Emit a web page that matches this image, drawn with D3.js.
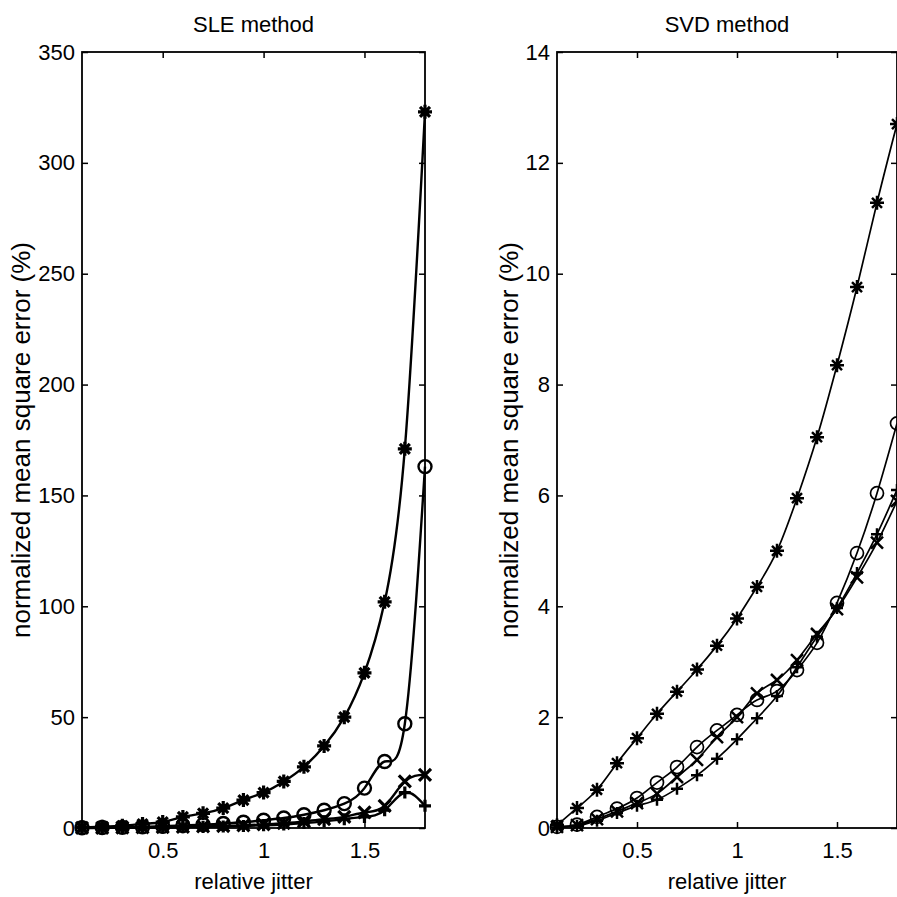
<!DOCTYPE html>
<html>
<head>
<meta charset="utf-8">
<script src="https://cdnjs.cloudflare.com/ajax/libs/d3/7.8.5/d3.min.js"></script>
<style>
  body { margin: 0; background: #fff; }
  text { font-family: "Liberation Sans", Arial, sans-serif; fill: #000; }
</style>
</head>
<body>
<svg id="chart"></svg>
<script>
var svg = d3.select("#chart").attr("width", 897).attr("height", 897);

var jitter = [0.1, 0.2, 0.3, 0.4, 0.5, 0.6, 0.7, 0.8, 0.9, 1.0, 1.1, 1.2, 1.3, 1.4, 1.5, 1.6, 1.7, 1.8];
var xTicks = [0.5, 1, 1.5];

// SLE method
var sleStar   = [0.3, 0.6, 1.0, 1.8, 2.7, 5.0, 6.6, 9.0, 12.6, 16, 21, 27.6, 37, 50, 70, 102, 171, 323];
var sleCircle = [0.1, 0.2, 0.3, 0.5, 0.8, 1.1, 1.5, 2.0, 2.6, 3.5, 4.5, 6, 8, 11, 18, 30, 47, 163];
var sleX      = [0.05, 0.1, 0.15, 0.25, 0.35, 0.5, 0.7, 0.9, 1.2, 1.6, 2.2, 3, 4, 5, 7, 10, 21, 24];
var slePlus   = [0.02, 0.05, 0.1, 0.15, 0.25, 0.35, 0.5, 0.65, 0.9, 1.2, 1.6, 2.2, 3, 4, 5, 8, 16, 10];
var sleTicks  = [0, 50, 100, 150, 200, 250, 300, 350];

// SVD method
var svdStar   = [0.05, 0.36, 0.69, 1.17, 1.62, 2.06, 2.46, 2.86, 3.29, 3.78, 4.35, 5.0, 5.95, 7.05, 8.35, 9.76, 11.28, 12.7];
var svdCircle = [0.02, 0.06, 0.2, 0.35, 0.54, 0.82, 1.1, 1.46, 1.76, 2.04, 2.31, 2.47, 2.85, 3.34, 4.06, 4.96, 6.04, 7.3];
var svdX      = [0.02, 0.05, 0.16, 0.3, 0.45, 0.62, 0.92, 1.23, 1.64, 2.0, 2.43, 2.67, 3.03, 3.5, 3.95, 4.52, 5.15, 5.9];
var svdPlus   = [0.01, 0.04, 0.13, 0.27, 0.4, 0.51, 0.71, 0.95, 1.25, 1.6, 1.98, 2.38, 2.9, 3.45, 3.97, 4.6, 5.3, 6.1];
var svdTicks  = [0, 2, 4, 6, 8, 10, 12, 14];

var markers = {
	star: "M-7,0H7M0,-7V7M-5,-5L5,5M-5,5L5,-5",
	x: "M-6,-6L6,6M-6,6L6,-6",
	plus: "M-6,0H6M0,-6V6"
};

var plotTop = 52, plotBottom = 828;

function panel(left, right, title, yMax, yTicks, series, lw, labelOffset)
{
	var xScale = d3.scaleLinear().domain([0.1, 1.8]).range([left, right]);
	var yScale = d3.scaleLinear().domain([0, yMax]).range([plotBottom, plotTop]);
	var w = right - left, h = plotBottom - plotTop;

	var g = svg.append("g");

	// lines
	var line = d3.line()
		.x(function(d, i){ return xScale(jitter[i]); })
		.y(function(d){ return yScale(d); })
		.curve(d3.curveNatural);

	series.forEach(function(s){
		g.append("path")
			.attr("d", line(s.values))
			.attr("fill", "none")
			.attr("stroke", "#000")
			.attr("stroke-width", lw);

		var m = g.append("g").selectAll("g")
			.data(s.values)
			.enter()
			.append("g")
				.attr("transform", function(d, i){
					return "translate(" + xScale(jitter[i]) + "," + yScale(d) + ")";
				});
		if (s.type == "circle")
			m.append("circle").attr("r", 6.5).attr("fill", "none").attr("stroke", "#000").attr("stroke-width", lw);
		else
			m.append("path").attr("d", markers[s.type]).attr("fill", "none").attr("stroke", "#000").attr("stroke-width", lw + 0.8);
	});

	// axes (box, ticks inward)
	var bAxis = g.append("g").attr("transform", "translate(0," + plotBottom + ")")
		.call(d3.axisBottom(xScale).tickValues(xTicks).tickSizeInner(-6).tickSizeOuter(0).tickPadding(14).tickFormat(d3.format("")));
	var tAxis = g.append("g").attr("transform", "translate(0," + plotTop + ")")
		.call(d3.axisTop(xScale).tickValues(xTicks).tickSizeInner(-6).tickSizeOuter(0).tickFormat(""));
	var lAxis = g.append("g").attr("transform", "translate(" + left + ",0)")
		.call(d3.axisLeft(yScale).tickValues(yTicks).tickSizeInner(-6).tickSizeOuter(0).tickPadding(7));
	var rAxis = g.append("g").attr("transform", "translate(" + right + ",0)")
		.call(d3.axisRight(yScale).tickValues(yTicks).tickSizeInner(-6).tickSizeOuter(0).tickFormat(""));

	[bAxis, tAxis, lAxis, rAxis].forEach(function(a){
		a.select(".domain").remove();
		a.selectAll("line").attr("stroke", "#000").attr("stroke-width", 1.5);
		a.selectAll("text").style("font-size", "22px").attr("font-family", null);
	});

	g.append("rect")
		.attr("x", left).attr("y", plotTop)
		.attr("width", w).attr("height", h)
		.attr("fill", "none")
		.attr("stroke", "#000")
		.attr("stroke-width", 1.8);

	g.append("text")
		.attr("x", (left + right)/2)
		.attr("y", 32)
		.attr("text-anchor", "middle")
		.style("font-size", "22px")
		.text(title);

	g.append("text")
		.attr("x", (left + right)/2)
		.attr("y", 889)
		.attr("text-anchor", "middle")
		.style("font-size", "22px")
		.text("relative jitter");

	g.append("g")
		.attr("transform", "translate(" + (left - labelOffset) + "," + ((plotTop + plotBottom)/2) + ")")
		.append("text")
			.attr("transform", "rotate(-90)")
			.attr("text-anchor", "middle")
			.style("font-size", "26px")
			.text("normalized mean square error (%)");
}

panel(82, 425, "SLE method", 350, sleTicks, [
	{type: "star", values: sleStar},
	{type: "circle", values: sleCircle},
	{type: "x", values: sleX},
	{type: "plus", values: slePlus}
], 2.4, 52);

panel(557, 897, "SVD method", 14, svdTicks, [
	{type: "star", values: svdStar},
	{type: "circle", values: svdCircle},
	{type: "x", values: svdX},
	{type: "plus", values: svdPlus}
], 1.7, 39);
</script>
</body>
</html>
